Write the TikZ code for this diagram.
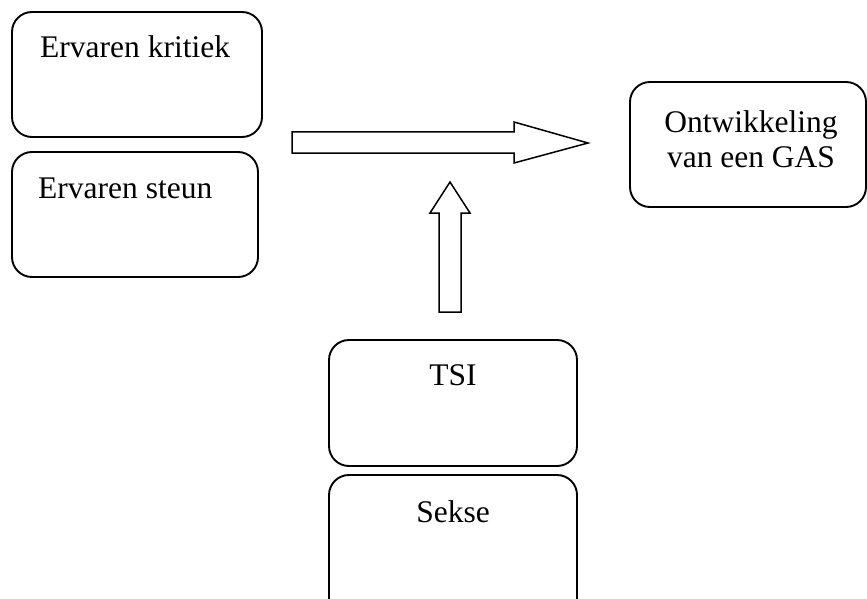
\documentclass[tikz,border=0pt]{standalone}
\usepackage{fontspec}
\setmainfont{Liberation Serif}
\begin{document}
\begin{tikzpicture}[x=1pt,y=-1pt,
  box/.style={draw=black,line width=1.9pt,rounded corners=20pt},
  lbl/.style={font=\fontsize{31.5}{35}\selectfont,inner sep=0pt},
  fatarrow/.style={draw=black,line width=1.5pt,fill=white,line join=miter}]
\useasboundingbox (0,0) rectangle (867,599);
\begin{scope}
\clip (0,0) rectangle (867,599);
% boxes
\draw[box] (12,12) rectangle (262,137);
\node[lbl,anchor=base west] (krit) at (40,58) {Ervaren kritiek};
\draw[box] (12,152) rectangle (258,277);
\node[lbl,anchor=base west] (steun) at (38,198) {Ervaren steun};
\draw[box] (329,340) rectangle (577,466);
\node[lbl,anchor=base] (tsi) at (453,385) {TSI};
\draw[box] (329,475) rectangle (577,620);
\node[lbl,anchor=base] (sekse) at (453,522) {Sekse};
\draw[box] (630,82) rectangle (866,207);
\node[lbl,anchor=base,align=center] (gas) at (751,167) {Ontwikkeling\\van een GAS};
% horizontal block arrow
\draw[fatarrow] (292,132) -- (514,132) -- (514,122) -- (588,143) -- (514,163) -- (514,153) -- (292,153) -- cycle;
% vertical block arrow
\draw[fatarrow] (439,312) -- (439,213) -- (430,213) -- (450,182) -- (470,213) -- (461,213) -- (461,312) -- cycle;
\end{scope}
\end{tikzpicture}
\end{document}
